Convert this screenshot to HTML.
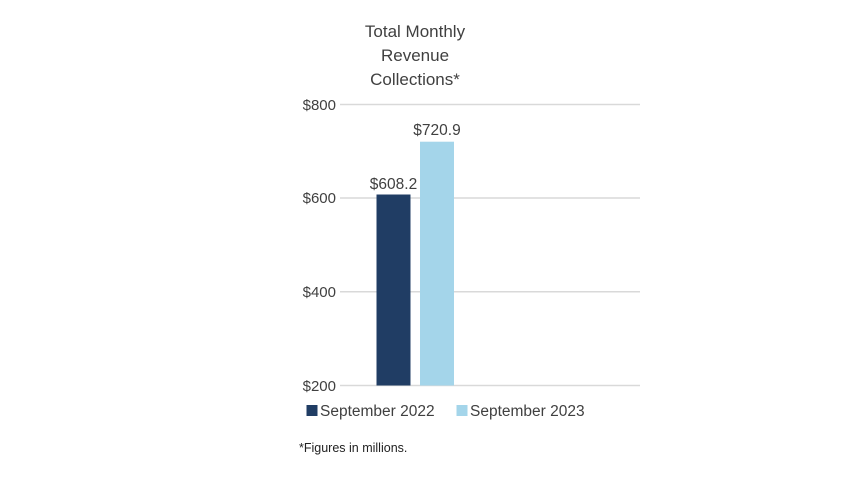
<!DOCTYPE html>
<html><head><meta charset="utf-8"><style>
body{margin:0;background:#fff;}
svg{display:block;font-family:"Liberation Sans",sans-serif;}
</style></head><body>
<svg width="850" height="478" viewBox="0 0 850 478">
<g fill="#404040" font-size="17" text-anchor="middle">
<text x="415" y="37">Total Monthly</text>
<text x="415" y="61">Revenue</text>
<text x="415" y="85">Collections*</text>
</g>
<g stroke="#d9d9d9" stroke-width="1.5">
<line x1="340" y1="104.5" x2="640" y2="104.5"/>
<line x1="340" y1="198" x2="640" y2="198"/>
<line x1="340" y1="291.7" x2="640" y2="291.7"/>
<line x1="340" y1="385.5" x2="640" y2="385.5"/>
</g>
<g fill="#404040" font-size="15" text-anchor="end">
<text x="336" y="110">$800</text>
<text x="336" y="203">$600</text>
<text x="336" y="297">$400</text>
<text x="336" y="391">$200</text>
</g>
<rect x="376.5" y="194.5" width="34" height="191" fill="#203d64"/>
<rect x="420" y="141.7" width="34" height="243.8" fill="#a4d5ea"/>
<g fill="#404040" font-size="15.5" text-anchor="middle">
<text x="393.5" y="189">$608.2</text>
<text x="437" y="135">$720.9</text>
</g>
<rect x="306.5" y="405" width="11" height="11" fill="#203d64"/>
<rect x="456.5" y="405" width="11" height="11" fill="#a4d5ea"/>
<g fill="#404040" font-size="15.5">
<text x="320" y="416">September 2022</text>
<text x="470" y="416">September 2023</text>
</g>
<text x="299" y="452" fill="#222" font-size="12.5">*Figures in millions.</text>
</svg>
</body></html>
